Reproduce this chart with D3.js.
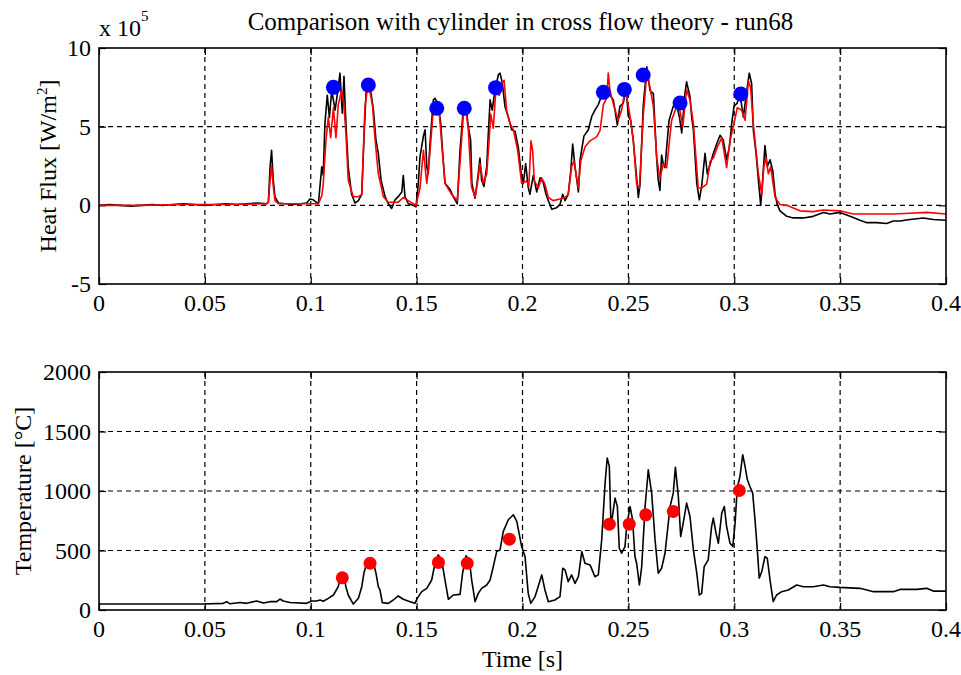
<!DOCTYPE html>
<html>
<head>
<meta charset="utf-8">
<script src="https://cdn.jsdelivr.net/npm/d3@7"></script>
<style>
  html, body { margin: 0; padding: 0; background: #fff; }
  svg { display: block; }
  text { font-family: "Liberation Serif", "Times New Roman", serif; fill: #000; }
</style>
</head>
<body>
<svg id="chart" width="961" height="675"></svg>
<script>
// ---- Data: run68 -------------------------------------------------------
// Heat flux is given in units of 1e5 W/m^2, time in seconds.
const chartTitle = "Comparison with cylinder in cross flow theory - run68";
const timeTicks = [0, 0.05, 0.1, 0.15, 0.2, 0.25, 0.3, 0.35, 0.4];
const fluxTicks = [-5, 0, 5, 10];
const tempTicks = [0, 500, 1000, 1500, 2000];

// measured heat flux (black)
const fluxMeasured = [
  [0,0],[0.005,0.05],[0.01,0],[0.015,-0.05],[0.02,0],[0.025,0.05],[0.03,0],[0.035,0.05],[0.04,0.1],[0.045,0.05],
  [0.05,0],[0.055,0.05],[0.06,0.1],[0.065,0.05],[0.07,0.1],[0.075,0.15],[0.0792,0.1],
  [0.0800,0.2],[0.0808,2.45],[0.0815,3.5],[0.0823,1.6],[0.0831,0.55],[0.0847,0.15],[0.088,0.1],[0.092,0.05],
  [0.095,0.1],[0.0981,0.15],[0.0996,0.4],[0.1012,0.35],[0.1036,0.1],
  [0.1052,2.45],[0.1059,1.9],[0.1067,5.2],[0.1078,7.0],[0.1088,5.6],[0.1099,7.3],[0.1115,6.05],[0.1126,7.1],
  [0.1138,8.4],[0.1149,5.85],[0.1157,8.2],[0.1166,5.2],[0.1177,2.45],[0.1193,0.7],[0.1209,0.15],[0.1225,0.3],
  [0.1241,0.7],[0.1251,4.15],[0.1261,7.1],[0.1272,7.85],[0.1285,7.1],[0.1296,6.05],[0.1308,4.15],[0.1319,3.3],
  [0.1332,1.6],[0.1351,0.55],[0.1366,0.1],
  [0.1382,-0.2],[0.1398,0.35],[0.1413,0.55],[0.1430,0.85],[0.1437,1.9],[0.1445,0.55],[0.1461,0.1],[0.1484,0.0],
  [0.1497,-0.1],[0.1508,1.4],[0.1516,3.1],[0.1532,4.4],[0.1540,4.8],[0.1548,2.45],[0.1555,2.0],[0.1563,3.9],
  [0.1579,6.7],[0.1587,6.8],[0.1602,6.4],[0.1614,5.2],[0.1621,3.7],[0.1634,1.4],[0.1658,1.0],[0.1673,0.55],
  [0.1692,0.1],[0.1705,3.5],[0.1720,6.05],[0.1733,6.3],[0.1744,5.0],[0.1755,4.15],[0.1761,1.4],[0.1776,0.45],
  [0.1791,2.0],[0.1799,3.0],[0.1807,1.6],[0.1818,1.2],[0.1831,2.45],[0.1838,4.4],[0.1847,6.7],[0.1857,6.05],
  [0.1870,7.3],[0.1886,8.3],[0.1894,8.4],[0.1905,7.75],[0.1917,6.3],[0.1933,5.6],[0.1949,4.8],[0.1965,4.7],
  [0.1980,3.7],[0.1996,1.75],[0.2004,1.4],[0.2015,2.65],[0.2027,1.15],[0.2035,0.7],[0.2051,1.9],[0.2067,0.85],
  [0.2083,1.75],[0.2098,1.45],[0.2111,0.7],[0.2122,0.3],[0.2138,-0.25],[0.2161,-0.15],[0.2177,0.05],[0.2190,0.7],
  [0.2201,0.3],[0.2216,0.7],[0.2228,2.2],[0.2237,3.9],[0.2248,2.45],[0.2264,0.85],[0.2272,2.9],[0.2290,4.4],
  [0.2311,4.8],[0.2327,5.65],[0.2342,6.05],[0.2358,6.4],[0.2374,7.0],[0.2398,7.3],[0.2413,7.0],[0.2429,6.7],
  [0.2448,5.1],[0.2460,6.3],[0.2476,6.5],[0.2489,7.5],[0.2500,5.65],[0.2511,5.4],[0.2523,4.15],[0.2539,1.75],
  [0.2547,0.5],[0.2555,1.35],[0.2570,6.3],[0.2587,8.8],[0.2602,7.3],[0.2618,7.1],[0.2626,5.0],[0.2634,2.9],
  [0.2641,1.6],[0.2649,0.95],[0.2657,3.2],[0.2665,2.6],[0.2673,2.4],[0.2681,3.7],[0.2692,5.4],[0.2712,6.3],
  [0.2728,6.4],[0.2741,5.6],[0.2752,4.6],[0.2767,7.1],[0.2775,7.85],[0.2791,6.9],[0.2799,5.6],[0.2807,4.8],
  [0.2823,1.4],[0.2835,0.35],[0.2846,1.2],[0.2862,3.3],[0.2873,2.0],[0.2886,2.6],[0.2901,3.3],[0.2917,3.9],
  [0.2933,4.45],[0.2948,4.15],[0.2964,2.9],[0.2977,3.7],[0.2988,5.2],[0.2999,6.3],[0.3014,6.5],[0.3027,7.1],
  [0.3043,5.6],[0.3059,7.3],[0.3071,8.4],[0.3082,7.75],[0.3090,4.8],[0.3103,3.3],[0.3114,1.6],[0.3125,0.0],
  [0.3134,1.6],[0.3145,3.8],[0.3156,2.45],[0.3169,2.9],[0.3182,2.2],[0.3193,0.7],[0.3203,0.05],[0.3216,-0.35],
  [0.3248,-0.7],[0.3279,-0.8],[0.3326,-0.8],[0.3373,-0.7],[0.3421,-0.45],[0.3452,-0.55],[0.3499,-0.45],
  [0.3547,-0.7],[0.3594,-0.95],[0.3626,-1.1],[0.3673,-1.1],[0.3720,-1.15],[0.3751,-1.0],[0.3783,-1.0],
  [0.3830,-0.9],[0.3893,-0.8],[0.3940,-0.9],[0.4,-0.95]
];

// cylinder-in-cross-flow theory (red)
const fluxTheory = [
  [0,0],[0.02,0],[0.04,0.05],[0.06,0.05],[0.079,0.1],[0.0800,0.2],[0.0808,1.6],[0.0815,2.5],[0.0823,1.2],
  [0.0831,0.3],[0.0847,0.1],[0.095,0.1],[0.1036,0.1],[0.1052,0.6],[0.1059,1.35],[0.1072,4.15],[0.1083,5.6],
  [0.1094,4.3],[0.1107,6.2],[0.1119,4.3],[0.1130,6.4],[0.1146,7.3],[0.1157,6.3],[0.1166,4.6],[0.1177,1.6],
  [0.1201,0.55],[0.1225,0.55],[0.1241,0.7],[0.1256,6.3],[0.1267,7.3],[0.1280,7.2],[0.1292,6.3],[0.1303,4.3],
  [0.1319,2.0],[0.1343,0.55],[0.1366,0.2],[0.1382,0.2],[0.1413,0.2],[0.1437,0.5],[0.1461,0.3],[0.1497,0.0],
  [0.1516,1.1],[0.1532,3.5],[0.1548,1.4],[0.1560,2.9],[0.1576,5.65],[0.1595,6.3],[0.1607,5.85],[0.1621,3.5],
  [0.1634,1.4],[0.1665,0.7],[0.1692,0.3],[0.1708,3.3],[0.1720,5.65],[0.1733,6.05],[0.1744,4.8],[0.1759,1.2],
  [0.1776,0.5],[0.1791,1.75],[0.1799,2.65],[0.1815,1.4],[0.1831,2.0],[0.1840,3.7],[0.1850,5.8],[0.1862,4.9],
  [0.1873,7.1],[0.1891,7.0],[0.1902,7.75],[0.1913,7.95],[0.1925,6.05],[0.1941,5.2],[0.1957,4.8],[0.1977,3.5],
  [0.1996,1.4],[0.2020,1.55],[0.2030,1.2],[0.2040,4.1],[0.2048,3.45],[0.2056,1.55],[0.2075,1.1],[0.2090,1.75],
  [0.2106,1.35],[0.2122,0.5],[0.2145,0.3],[0.2177,0.4],[0.2201,0.5],[0.2216,0.7],[0.2232,2.45],[0.2243,2.8],
  [0.2264,1.1],[0.2275,2.8],[0.2295,3.7],[0.2319,4.1],[0.2350,4.35],[0.2366,4.75],[0.2382,6.4],[0.2398,6.85],
  [0.2405,8.4],[0.2413,7.3],[0.2429,6.45],[0.2452,5.4],[0.2468,6.05],[0.2484,7.3],[0.2495,6.7],[0.2511,5.4],
  [0.2523,4.15],[0.2539,1.35],[0.2552,1.1],[0.2570,5.65],[0.2587,8.35],[0.2602,7.5],[0.2618,6.3],[0.2634,3.0],
  [0.2649,1.75],[0.2665,2.6],[0.2681,2.4],[0.2704,5.4],[0.2728,6.3],[0.2741,6.2],[0.2757,5.0],[0.2775,7.35],
  [0.2791,6.7],[0.2807,5.2],[0.2830,1.1],[0.2846,1.1],[0.2870,1.35],[0.2886,2.8],[0.2901,3.0],[0.2920,3.7],
  [0.2941,4.3],[0.2964,2.4],[0.2980,4.1],[0.2999,5.2],[0.3014,6.2],[0.3035,6.05],[0.3051,5.4],[0.3067,7.9],
  [0.3077,7.5],[0.3090,5.2],[0.3114,2.0],[0.3130,0.7],[0.3140,2.45],[0.3150,3.0],[0.3161,2.0],[0.3172,2.45],
  [0.3193,0.5],[0.3216,0.05],[0.3248,0.0],[0.3310,-0.35],[0.3373,-0.4],[0.3421,-0.3],[0.3499,-0.35],
  [0.3562,-0.55],[0.3673,-0.55],[0.3751,-0.55],[0.3830,-0.5],[0.3909,-0.45],[0.4,-0.55]
];

// peak heat flux picked for each impact (blue dots)
const peakFluxTime  = [0.1107, 0.1272, 0.1595, 0.1725, 0.1873, 0.2382, 0.2481, 0.2570, 0.2744, 0.3031];
const peakFluxValue = [7.50, 7.65, 6.17, 6.17, 7.48, 7.18, 7.37, 8.28, 6.50, 7.08];

// measured temperature, degC
const temperature = [
  [0,50],[0.02,50],[0.04,50],[0.049,50],[0.0587,56],[0.0603,70],[0.0619,52],[0.0666,63],[0.0697,56],
  [0.0745,76],[0.0776,59],[0.0808,70],[0.0839,70],[0.0855,92],[0.0870,76],[0.0902,63],[0.0981,56],[0.1004,76],
  [0.1028,76],[0.1044,84],[0.1059,73],[0.1083,98],[0.1107,126],[0.1130,196],[0.1141,280],[0.1149,314],
  [0.1157,280],[0.1166,196],[0.1177,126],[0.1201,50],[0.1225,98],[0.1241,196],[0.1251,309],[0.1264,393],
  [0.1280,365],[0.1296,399],[0.1308,309],[0.1319,196],[0.1327,168],[0.1338,62],[0.1366,56],[0.1390,84],
  [0.1413,118],[0.1437,90],[0.1469,70],[0.1492,56],[0.1503,98],[0.1524,154],[0.1548,182],[0.1571,252],
  [0.1587,393],[0.1602,463],[0.1618,421],[0.1634,252],[0.1650,90],[0.1673,126],[0.1705,131],[0.1717,309],
  [0.1733,455],[0.1749,421],[0.1760,252],[0.1776,70],[0.1791,140],[0.1807,182],[0.1831,210],[0.1847,252],
  [0.1862,365],[0.1878,491],[0.1894,505],[0.1909,659],[0.1933,758],[0.1957,800],[0.1973,744],[0.1996,533],
  [0.2012,449],[0.2027,140],[0.2039,56],[0.2059,112],[0.2091,295],[0.2106,168],[0.2122,70],[0.2153,84],
  [0.2177,112],[0.2190,351],[0.2201,337],[0.2216,238],[0.2232,295],[0.2248,224],[0.2264,280],[0.2280,491],
  [0.2295,393],[0.2319,379],[0.2342,280],[0.2358,295],[0.2374,589],[0.2390,1066],[0.2400,1277],[0.2410,1207],
  [0.2418,701],[0.2429,842],[0.2437,940],[0.2448,870],[0.2457,519],[0.2468,477],[0.2484,533],[0.2492,701],
  [0.2508,870],[0.2520,758],[0.2531,449],[0.2539,393],[0.2552,210],[0.2563,365],[0.2579,870],[0.2594,1178],
  [0.2610,982],[0.2626,589],[0.2641,309],[0.2657,351],[0.2673,477],[0.2697,870],[0.2712,982],[0.2722,1200],
  [0.2736,954],[0.2747,617],[0.2759,730],[0.2775,898],[0.2791,786],[0.2807,505],[0.2823,309],[0.2835,126],
  [0.2846,140],[0.2858,365],[0.2877,421],[0.2893,701],[0.2901,772],[0.2914,645],[0.2925,561],[0.2941,814],
  [0.2953,870],[0.2964,701],[0.2980,561],[0.2993,533],[0.3004,730],[0.3014,1024],[0.3027,1122],[0.3040,1305],
  [0.3051,1207],[0.3062,1094],[0.3074,1038],[0.3087,982],[0.3098,758],[0.3109,505],[0.3118,267],[0.3130,323],
  [0.3145,449],[0.3156,435],[0.3169,252],[0.3184,70],[0.3200,126],[0.3224,154],[0.3255,168],[0.3295,210],
  [0.3326,196],[0.3373,196],[0.3421,210],[0.3452,196],[0.3499,190],[0.3594,182],[0.3626,168],[0.3657,154],
  [0.3751,154],[0.3783,173],[0.3862,173],[0.3909,182],[0.3940,159],[0.4,159]
];

// temperature at each picked impact (red dots)
const impactTempTime  = [0.1149, 0.1280, 0.1603, 0.1739, 0.1938, 0.2410, 0.2504, 0.2582, 0.2712, 0.3024];
const impactTempValue = [270, 393, 400, 393, 595, 721, 721, 800, 828, 1004];

// ---- Layout --------------------------------------------------------------
const svg = d3.select("#chart");
const left = 99, right = 946;
const topPanel = { top: 48, bottom: 284 };
const botPanel = { top: 372, bottom: 610 };
const FS = 24;

const x = d3.scaleLinear().domain([0, 0.4]).range([left, right]);
const yFlux = d3.scaleLinear().domain([-5, 10]).range([topPanel.bottom, topPanel.top]);
const yTemp = d3.scaleLinear().domain([0, 2000]).range([botPanel.bottom, botPanel.top]);

svg.append("rect").attr("width", 961).attr("height", 675).attr("fill", "#fff");

const fmtTime = d => d === 0 ? "0" : String(+d.toFixed(2));

function drawPanel(id, yScale, yTicks, panel) {
  const g = svg.append("g").attr("class", "panel-" + id);

  // clip region for the data
  svg.append("clipPath").attr("id", "clip-" + id)
    .append("rect").attr("x", left).attr("y", panel.top)
    .attr("width", right - left).attr("height", panel.bottom - panel.top);

  // dashed grid
  const grid = g.append("g").attr("stroke", "#000").attr("stroke-width", 1.2)
    .attr("stroke-dasharray", "5,4").attr("fill", "none");
  timeTicks.slice(1, -1).forEach(t => {
    grid.append("line").attr("x1", x(t)).attr("x2", x(t))
      .attr("y1", panel.top).attr("y2", panel.bottom);
  });
  yTicks.slice(1, -1).forEach(v => {
    grid.append("line").attr("x1", left).attr("x2", right)
      .attr("y1", yScale(v)).attr("y2", yScale(v));
  });

  // inward tick marks on all four sides via d3 axes
  const tl = 7;
  g.append("g").attr("transform", `translate(0,${panel.bottom})`)
    .call(d3.axisTop(x).tickValues(timeTicks).tickSize(tl).tickFormat(""))
    .call(a => a.select(".domain").remove());
  g.append("g").attr("transform", `translate(0,${panel.top})`)
    .call(d3.axisBottom(x).tickValues(timeTicks).tickSize(tl).tickFormat(""))
    .call(a => a.select(".domain").remove());
  g.append("g").attr("transform", `translate(${left},0)`)
    .call(d3.axisRight(yScale).tickValues(yTicks).tickSize(tl).tickFormat(""))
    .call(a => a.select(".domain").remove());
  g.append("g").attr("transform", `translate(${right},0)`)
    .call(d3.axisLeft(yScale).tickValues(yTicks).tickSize(tl).tickFormat(""))
    .call(a => a.select(".domain").remove());
  g.selectAll(".tick line").attr("stroke", "#000").attr("stroke-width", 1.2);

  // tick labels
  g.append("g").selectAll("text").data(timeTicks).join("text")
    .attr("x", d => x(d)).attr("y", panel.bottom + 27)
    .attr("text-anchor", "middle").attr("font-size", FS)
    .text(fmtTime);
  g.append("g").selectAll("text").data(yTicks).join("text")
    .attr("x", left - 8).attr("y", d => yScale(d) + 8)
    .attr("text-anchor", "end").attr("font-size", FS)
    .text(d => String(d));

  return g;
}

const gTop = drawPanel("flux", yFlux, fluxTicks, topPanel);
const gBot = drawPanel("temp", yTemp, tempTicks, botPanel);

// ---- Data lines ---------------------------------------------------------
const fluxLine = d3.line().x(d => x(d[0])).y(d => yFlux(d[1]));
const tempLine = d3.line().x(d => x(d[0])).y(d => yTemp(d[1]));

const dataTop = svg.append("g").attr("clip-path", "url(#clip-flux)");
dataTop.append("path").datum(fluxMeasured).attr("d", fluxLine)
  .attr("fill", "none").attr("stroke", "#000").attr("stroke-width", 1.6).attr("stroke-linejoin", "round");
dataTop.append("path").datum(fluxTheory).attr("d", fluxLine)
  .attr("fill", "none").attr("stroke", "#ff0000").attr("stroke-width", 1.6).attr("stroke-linejoin", "round");
dataTop.append("g").selectAll("circle").data(peakFluxTime).join("circle")
  .attr("cx", d => x(d)).attr("cy", (d, i) => yFlux(peakFluxValue[i]))
  .attr("r", 7.5).attr("fill", "#0000ff");

const dataBot = svg.append("g").attr("clip-path", "url(#clip-temp)");
dataBot.append("path").datum(temperature).attr("d", tempLine)
  .attr("fill", "none").attr("stroke", "#000").attr("stroke-width", 1.6).attr("stroke-linejoin", "round");
dataBot.append("g").selectAll("circle").data(impactTempTime).join("circle")
  .attr("cx", d => x(d)).attr("cy", (d, i) => yTemp(impactTempValue[i]))
  .attr("r", 6.5).attr("fill", "#ff0000");

// ---- Frames ------------------------------------------------------------
[topPanel, botPanel].forEach(p => {
  svg.append("rect").attr("x", left).attr("y", p.top)
    .attr("width", right - left).attr("height", p.bottom - p.top)
    .attr("fill", "none").attr("stroke", "#000").attr("stroke-width", 1.6);
});

// ---- Titles and labels -------------------------------------------------
svg.append("text").attr("x", (left + right) / 2 - 2).attr("y", 30)
  .attr("text-anchor", "middle").attr("font-size", 25).text(chartTitle);

const expo = svg.append("text").attr("x", 99).attr("y", 36).attr("font-size", FS);
expo.append("tspan").text("x 10");
expo.append("tspan").attr("dy", -15).attr("font-size", 15).text("5");

const yl1 = svg.append("text")
  .attr("transform", `translate(56,${(topPanel.top + topPanel.bottom) / 2}) rotate(-90)`)
  .attr("text-anchor", "middle").attr("font-size", FS);
yl1.append("tspan").text("Heat Flux [W/m");
yl1.append("tspan").attr("dy", -9).attr("font-size", 15).text("2");
yl1.append("tspan").attr("dy", 9).text("]");

svg.append("text")
  .attr("transform", `translate(31,${(botPanel.top + botPanel.bottom) / 2}) rotate(-90)`)
  .attr("text-anchor", "middle").attr("font-size", FS).text("Temperature [°C]");

svg.append("text").attr("x", (left + right) / 2).attr("y", 667)
  .attr("text-anchor", "middle").attr("font-size", FS).text("Time [s]");
</script>
</body>
</html>
